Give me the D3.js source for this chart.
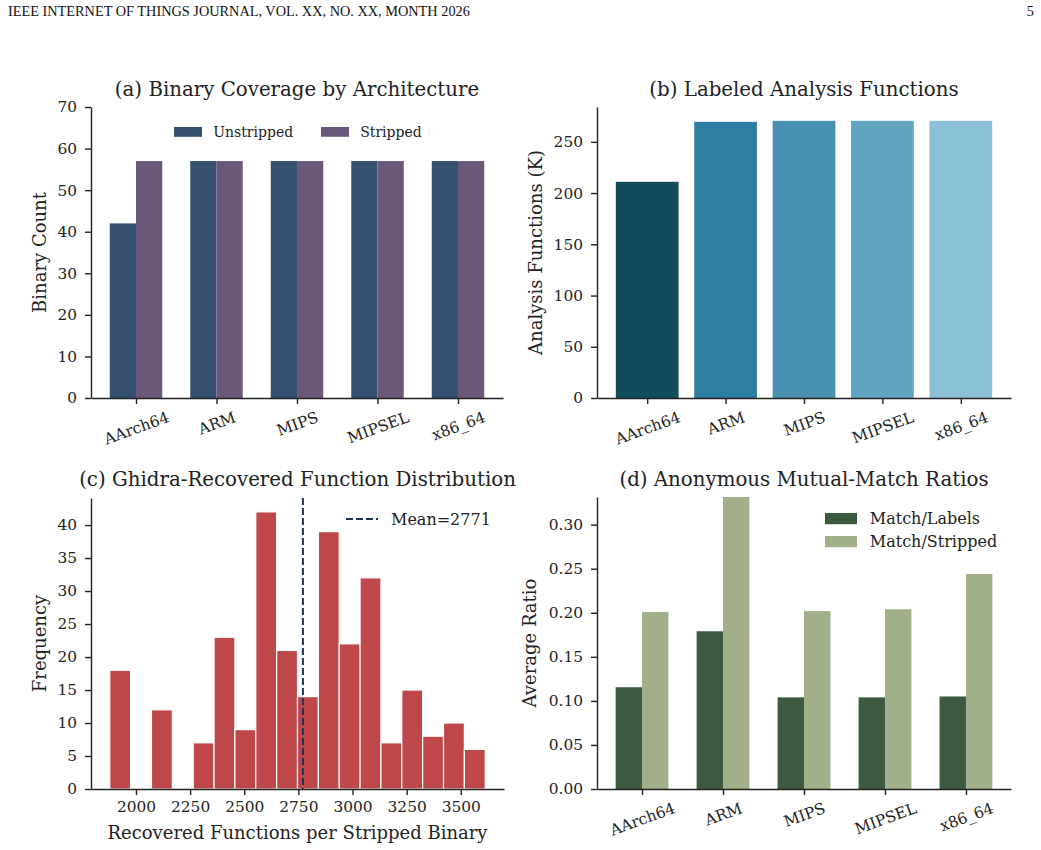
<!DOCTYPE html>
<html>
<head>
<meta charset="utf-8">
<script src="https://cdn.jsdelivr.net/npm/d3@7"></script>
<style>
  body { margin: 0; background: #fff; }
  svg { display: block; }
  text { font-family: "DejaVu Serif", serif; fill: #222; }
</style>
</head>
<body>
<svg id="fig" width="1041" height="850"></svg>
<script>
// ---- data
var archs = ["AArch64", "ARM", "MIPS", "MIPSEL", "x86_64"];

// (a) binary counts
var unstripped = [42, 57, 57, 57, 57];
var stripped = [57, 57, 57, 57, 57];
var ticksA = [0, 10, 20, 30, 40, 50, 60, 70];

// (b) labeled analysis functions, thousands
var labeledK = [211, 269.5, 270.5, 270.5, 270.5];
var colorsB = ["#124b59", "#2e7ea2", "#4890b0", "#62a5c3", "#8ac0d8"];
var ticksB = [0, 50, 100, 150, 200, 250];

// (c) histogram of recovered functions
var histCounts = [18, 0, 12, 0, 7, 23, 9, 42, 21, 14, 39, 22, 32, 7, 15, 8, 10, 6];
var histRange = [1879, 3613];
var meanRecovered = 2771;
var ticksC = [0, 5, 10, 15, 20, 25, 30, 35, 40];
var ticksCx = [2000, 2250, 2500, 2750, 3000, 3250, 3500];

// (d) mutual-match ratios
var matchLabels = [0.1155, 0.179, 0.104, 0.104, 0.105];
var matchStripped = [0.2008, 0.335, 0.2019, 0.204, 0.244];
var ticksD = [0, 0.05, 0.10, 0.15, 0.20, 0.25, 0.30];

var svg = d3.select("#fig");
var TICK_FS = 15.4, LABEL_FS = 18, TITLE_FS = 19.8;

// page header
svg.append("text").attr("x", 8).attr("y", 16)
  .style("font-family", "'Liberation Serif', serif").style("font-size", "14.3px").style("fill", "#111")
  .text("IEEE INTERNET OF THINGS JOURNAL, VOL. XX, NO. XX, MONTH 2026");
svg.append("text").attr("x", 1034).attr("y", 16).attr("text-anchor", "end")
  .style("font-family", "'Liberation Serif', serif").style("font-size", "14.3px").style("fill", "#111")
  .text("5");

function styleAxis(g) {
  g.selectAll("path.domain").attr("stroke", "#222").attr("stroke-width", 1.4);
  g.selectAll(".tick line").attr("stroke", "#222").attr("stroke-width", 1.4);
  g.selectAll(".tick text").style("font-family", "'DejaVu Serif', serif")
    .style("font-size", TICK_FS + "px").attr("fill", "#222");
}

function leftAxis(p, y, ticks, fmt) {
  var g = svg.append("g").attr("transform", "translate(" + p.left + ",0)")
    .call(d3.axisLeft(y).tickValues(ticks).tickFormat(fmt).tickSize(6).tickPadding(8).tickSizeOuter(0));
  styleAxis(g);
  return g;
}

function bottomAxis(p, x, ticks, fmt, rotate) {
  var g = svg.append("g").attr("transform", "translate(0," + p.bottom + ")")
    .call(d3.axisBottom(x).tickValues(ticks).tickFormat(fmt).tickSize(6).tickPadding(6).tickSizeOuter(0));
  styleAxis(g);
  if (rotate) {
    var th = 20 * Math.PI / 180;
    g.selectAll(".tick text").each(function() {
      var t = d3.select(this);
      var w = this.getComputedTextLength();
      var H = w * Math.sin(th) + TICK_FS * 0.75 * Math.cos(th);
      t.attr("y", 0).attr("dy", "0.35em").attr("text-anchor", "middle")
        .attr("transform", "translate(0," + (13 + H / 2) + ") rotate(-20)");
    });
  }
  return g;
}

function title(p, s, yy) {
  svg.append("text").attr("x", (p.left + p.right) / 2).attr("y", yy)
    .attr("text-anchor", "middle").style("font-size", TITLE_FS + "px").text(s);
}

function ylabel(p, s, xx) {
  svg.append("text").attr("transform", "translate(" + xx + "," + (p.top + p.bottom) / 2 + ") rotate(-90)")
    .attr("text-anchor", "middle").style("font-size", LABEL_FS + "px").text(s);
}

function legendPatch(x, y, color, label, fs) {
  svg.append("rect").attr("x", x).attr("y", y).attr("width", 2 * fs).attr("height", 0.7 * fs).attr("fill", color);
  svg.append("text").attr("x", x + 2.8 * fs).attr("y", y + 0.7 * fs).style("font-size", fs + "px").text(label);
}

// ---------------- (a)
(function() {
  var p = { left: 91, right: 503, top: 107, bottom: 398 };
  var bw = 0.326;
  var x = d3.scaleLinear().domain([-0.559, 4.559]).range([p.left, p.right]);
  var y = d3.scaleLinear().domain([0, 70]).range([p.bottom, p.top]);
  var g = svg.append("g");
  g.selectAll("rect.u").data(unstripped).join("rect")
    .attr("x", function(d, i) { return x(i - bw); }).attr("width", x(bw) - x(0))
    .attr("y", function(d) { return y(d); }).attr("height", function(d) { return y(0) - y(d); })
    .attr("fill", "#35506f");
  g.selectAll("rect.s").data(stripped).join("rect")
    .attr("x", function(d, i) { return x(i); }).attr("width", x(bw) - x(0))
    .attr("y", function(d) { return y(d); }).attr("height", function(d) { return y(0) - y(d); })
    .attr("fill", "#6b5878");
  leftAxis(p, y, ticksA, d3.format("d"));
  bottomAxis(p, x, d3.range(archs.length), function(i) { return archs[i]; }, true);
  title(p, "(a) Binary Coverage by Architecture", 96);
  ylabel(p, "Binary Count", 46);
  legendPatch(174, 127, "#35506f", "Unstripped", 14);
  legendPatch(321, 127, "#6b5878", "Stripped", 14);
})();

// ---------------- (b)
(function() {
  var p = { left: 597, right: 1011, top: 107, bottom: 398 };
  var bw = 0.8;
  var x = d3.scaleLinear().domain([-0.64, 4.64]).range([p.left, p.right]);
  var y = d3.scaleLinear().domain([0, 284]).range([p.bottom, p.top]);
  svg.append("g").selectAll("rect").data(labeledK).join("rect")
    .attr("x", function(d, i) { return x(i - bw / 2); }).attr("width", x(bw) - x(0))
    .attr("y", function(d) { return y(d); }).attr("height", function(d) { return y(0) - y(d); })
    .attr("fill", function(d, i) { return colorsB[i]; });
  leftAxis(p, y, ticksB, d3.format("d"));
  bottomAxis(p, x, d3.range(archs.length), function(i) { return archs[i]; }, true);
  title(p, "(b) Labeled Analysis Functions", 96);
  ylabel(p, "Analysis Functions (K)", 542);
})();

// ---------------- (c)
(function() {
  var p = { left: 91, right: 504, top: 498, bottom: 789 };
  var span = histRange[1] - histRange[0];
  var x = d3.scaleLinear().domain([histRange[0] - 0.05 * span, histRange[1] + 0.05 * span]).range([p.left, p.right]);
  var y = d3.scaleLinear().domain([0, 44.1]).range([p.bottom, p.top]);
  var binW = span / histCounts.length;
  svg.append("g").selectAll("rect").data(histCounts).join("rect")
    .attr("x", function(d, i) { return x(histRange[0] + i * binW); })
    .attr("width", x(binW) - x(0))
    .attr("y", function(d) { return y(d); }).attr("height", function(d) { return y(0) - y(d); })
    .attr("fill", "#be474a").attr("stroke", function(d) { return d > 0 ? "#fff" : "none"; })
    .attr("stroke-width", 1.2);
  svg.append("line").attr("x1", x(meanRecovered)).attr("x2", x(meanRecovered))
    .attr("y1", p.top).attr("y2", p.bottom)
    .attr("stroke", "#1f3352").attr("stroke-width", 2).attr("stroke-dasharray", "7,3");
  leftAxis(p, y, ticksC, d3.format("d"));
  bottomAxis(p, x, ticksCx, d3.format("d"), false);
  title(p, "(c) Ghidra-Recovered Function Distribution", 486);
  ylabel(p, "Frequency", 46);
  svg.append("text").attr("x", (p.left + p.right) / 2).attr("y", 839)
    .attr("text-anchor", "middle").style("font-size", LABEL_FS + "px")
    .text("Recovered Functions per Stripped Binary");
  // legend
  svg.append("line").attr("x1", 346).attr("x2", 378).attr("y1", 519).attr("y2", 519)
    .attr("stroke", "#1f3352").attr("stroke-width", 2).attr("stroke-dasharray", "7,3");
  svg.append("text").attr("x", 391).attr("y", 524.5).style("font-size", "16px")
    .text("Mean=" + meanRecovered);
})();

// ---------------- (d)
(function() {
  var p = { left: 597, right: 1011, top: 497, bottom: 789 };
  var bw = 0.326;
  var x = d3.scaleLinear().domain([-0.556, 4.556]).range([p.left, p.right]);
  var y = d3.scaleLinear().domain([0, 0.3314]).range([p.bottom, p.top]);
  svg.append("clipPath").attr("id", "clipD").append("rect")
    .attr("x", p.left).attr("y", p.top).attr("width", p.right - p.left).attr("height", p.bottom - p.top);
  var g = svg.append("g").attr("clip-path", "url(#clipD)");
  g.selectAll("rect.l").data(matchLabels).join("rect")
    .attr("x", function(d, i) { return x(i - bw); }).attr("width", x(bw) - x(0))
    .attr("y", function(d) { return y(d); }).attr("height", function(d) { return y(0) - y(d); })
    .attr("fill", "#3b5a40");
  g.selectAll("rect.s").data(matchStripped).join("rect")
    .attr("x", function(d, i) { return x(i); }).attr("width", x(bw) - x(0))
    .attr("y", function(d) { return y(d); }).attr("height", function(d) { return y(0) - y(d); })
    .attr("fill", "#a2b08a");
  leftAxis(p, y, ticksD, d3.format(".2f"));
  bottomAxis(p, x, d3.range(archs.length), function(i) { return archs[i]; }, true);
  title(p, "(d) Anonymous Mutual-Match Ratios", 486);
  ylabel(p, "Average Ratio", 536);
  legendPatch(825, 513, "#3b5a40", "Match/Labels", 16);
  legendPatch(825, 536, "#a2b08a", "Match/Stripped", 16);
})();
</script>
</body>
</html>
